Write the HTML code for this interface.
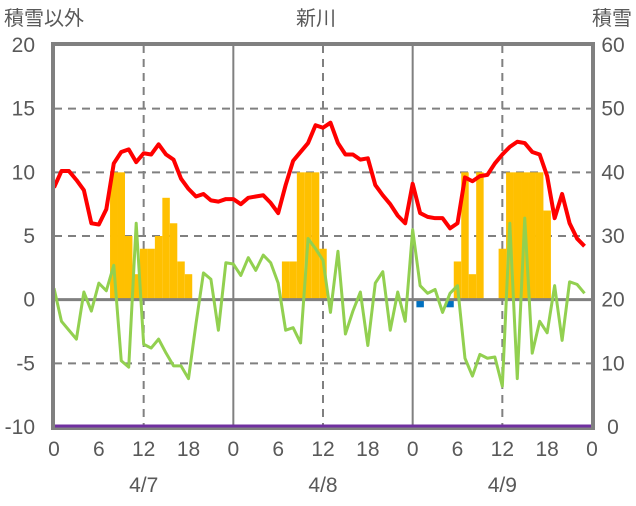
<!DOCTYPE html>
<html><head><meta charset="utf-8"><style>
body{margin:0;background:#fff}
svg text{font-family:"Liberation Sans","Noto Sans CJK JP",sans-serif;fill:#595959}
</style></head><body>
<svg width="636" height="501" xmlns="http://www.w3.org/2000/svg">
<g id="g"></g>
</svg>
<script>
const hours=[...Array(72).keys()];
const temp=[8.8,10.1,10.1,9.4,8.6,6.0,5.9,7.1,10.7,11.6,11.8,10.8,11.5,11.4,12.2,11.4,11.0,9.5,8.7,8.1,8.3,7.8,7.7,7.9,
7.9,7.5,8.0,8.1,8.2,7.6,6.8,9.0,10.9,11.6,12.3,13.7,13.5,13.9,12.3,11.4,11.4,11.0,11.1,9.0,8.2,7.5,6.6,6.0,
9.1,6.8,6.5,6.4,6.4,5.6,6.0,9.6,9.3,9.7,9.8,10.7,11.4,12.0,12.4,12.3,11.6,11.4,9.7,6.4,8.3,6.0,4.8,4.2];
const other=[0.9,-1.7,-2.4,-3.1,0.6,-0.9,1.3,0.7,2.7,-4.8,-5.3,6.0,-3.5,-3.8,-3.1,-4.2,-5.2,-5.2,-6.2,-1.9,2.1,1.6,-2.4,2.9,
2.8,1.9,3.3,2.3,3.5,2.9,1.3,-2.4,-2.2,-3.4,4.8,4.0,3.1,-1.0,3.8,-2.7,-0.9,0.6,-3.6,1.3,2.2,-2.4,0.6,-1.7,
5.5,1.1,0.5,0.8,-1.0,0.5,1.1,-4.6,-6.0,-4.3,-4.6,-4.5,-6.8,6.0,-6.2,6.4,-4.2,-1.7,-2.6,1.1,-3.2,1.4,1.2,0.5];
const snow={8:40,9:40,10:30,11:24,12:28,13:28,14:30,15:36,16:32,17:26,18:24,31:26,32:26,33:40,34:40,35:40,36:28,54:26,55:40,56:24,57:40,60:28,61:40,62:40,63:40,64:40,65:40,66:34};
const blueHours=[49,53];
const blueVal=[-0.6,-0.6];
const leftTicks=[20,15,10,5,0,-5,-10];
const rightTicks=[60,50,40,30,20,10,0];
const hourLabels=["0","6","12","18"];
const dayLabels=["4/7","4/8","4/9"];

const X0=54,X1=592,Y0=45,Y1=427;
const x=h=>X0+(X1-X0)*h/72;
const yL=v=>Y1-(v+10)/30*(Y1-Y0);
const yR=v=>Y1-v/60*(Y1-Y0);
const g=document.getElementById('g');
function el(t,a,txt){const e=document.createElementNS('http://www.w3.org/2000/svg',t);for(const k in a)e.setAttribute(k,a[k]);if(txt!==undefined)e.textContent=txt;g.appendChild(e);return e;}
leftTicks.forEach(v=>{if(v!==20&&v!==0&&v!==-10){const e=el('line',{x1:X0,x2:X1,y1:yL(v),y2:yL(v),stroke:'#808080','stroke-width':2,'stroke-dasharray':'8,6'});

}});
[12,36,60].forEach(h=>{const e=el('line',{x1:x(h),x2:x(h),y1:Y0,y2:Y1,stroke:'#808080','stroke-width':2,'stroke-dasharray':'8,6'});

});
[24,48].forEach(h=>{const e=el('line',{x1:x(h),x2:x(h),y1:Y0,y2:Y1,stroke:'#808080','stroke-width':2});

});
const bw=x(1)-x(0);
for(const h in snow){const v=snow[h];const e=el('rect',{x:x(+h)-bw/2,y:yR(v),width:bw,height:yR(20)-yR(v),fill:'#ffc000'});

}
blueHours.forEach((h,i)=>{const e=el('rect',{x:x(h)-bw/2,y:yL(0),width:bw,height:yL(blueVal[i])-yL(0),fill:'#0070c0'});

});
const z=el('line',{x1:X0,x2:X1,y1:yL(0),y2:yL(0),stroke:'#808080','stroke-width':3});


const p1=el('polyline',{points:other.map((v,i)=>x(i)+','+yL(v)).join(' '),fill:'none',stroke:'#92d050','stroke-width':3,'stroke-linejoin':'round'});


const p2=el('polyline',{points:temp.map((v,i)=>x(i)+','+yL(v)).join(' '),fill:'none',stroke:'#ff0000','stroke-width':4,'stroke-linejoin':'round'});


const fr=el('rect',{x:X0-1,y:Y0-1,width:X1-X0+2,height:Y1-Y0+2,fill:'none',stroke:'#808080','stroke-width':4});


const pu=el('line',{x1:X0+1,x2:X1-1,y1:Y1-1,y2:Y1-1,stroke:'#7030a0','stroke-width':3});


leftTicks.forEach(v=>{const t=el('text',{x:35,y:yL(v)+7,'font-size':21,'text-anchor':'end'},String(v));

});
rightTicks.forEach(v=>{const t=el('text',{x:613,y:yR(v)+7,'font-size':21,'text-anchor':'middle'},String(v));

});
for(let d=0;d<=3;d++){hourLabels.forEach((l,i)=>{if(d===3&&i>0)return;const t=el('text',{x:x(d*24+i*6),y:456,'font-size':21,'text-anchor':'middle'},l);

});}
dayLabels.forEach((l,i)=>{const t=el('text',{x:x(i*24+12),y:492,'font-size':21,'text-anchor':'middle'},l);

});
const a=el('text',{x:4,y:25,'font-size':20},'積雪以外');


const b=el('text',{x:632,y:25,'font-size':20,'text-anchor':'end'},'積雪');


const c=el('text',{x:316,y:25,'font-size':20,'text-anchor':'middle'},'新川');


</script>
</body></html>
